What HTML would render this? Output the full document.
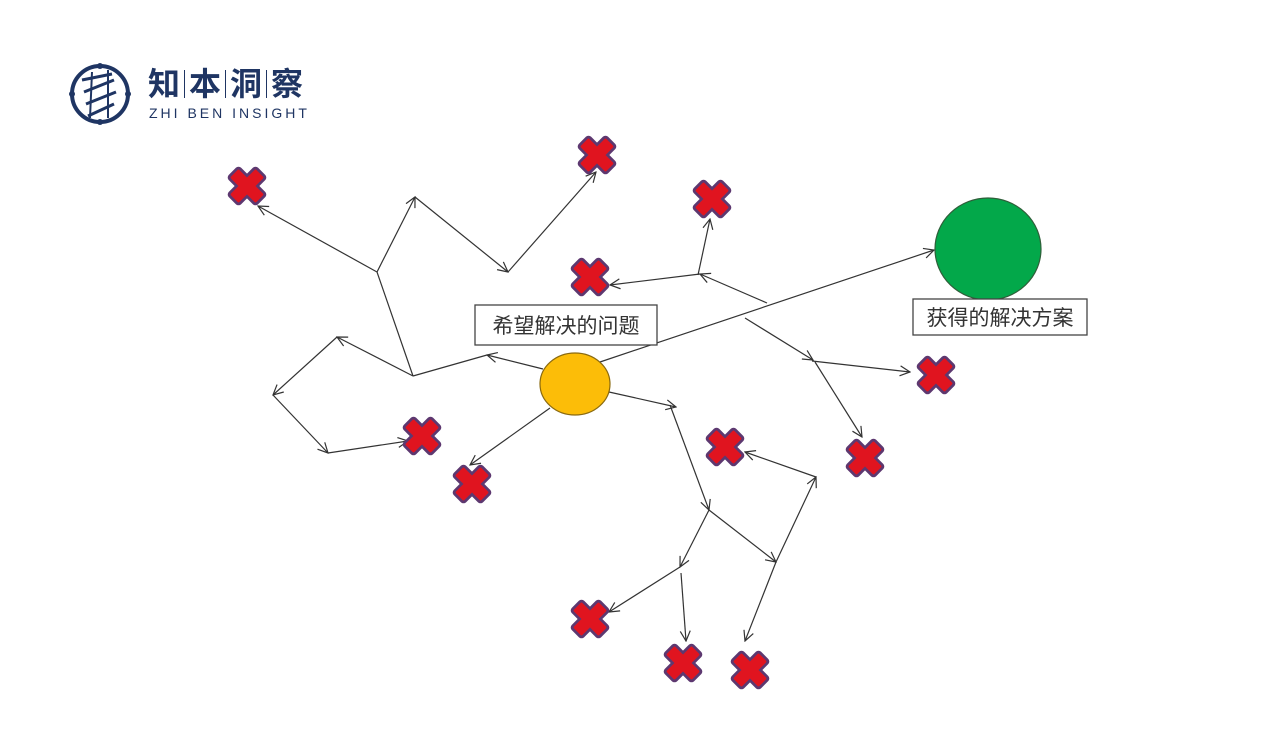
<!DOCTYPE html>
<html><head><meta charset="utf-8"><style>
html,body{margin:0;padding:0;background:#fff;width:1267px;height:752px;overflow:hidden}
</style></head><body>
<svg width="1267" height="752" viewBox="0 0 1267 752" xmlns="http://www.w3.org/2000/svg">
<defs>
<marker id="a" viewBox="0 0 12 12" refX="11" refY="6" markerWidth="12" markerHeight="12" markerUnits="userSpaceOnUse" orient="auto">
<path d="M1,1 L11,6 L1,11" fill="none" stroke="#333" stroke-width="1.2"/>
</marker>
<g id="x">
<g stroke="#5d3870" stroke-width="3.5" fill="#5d3870">
<rect x="-19" y="-7" width="38" height="14" rx="2" transform="rotate(45)"/>
<rect x="-19" y="-7" width="38" height="14" rx="2" transform="rotate(-45)"/>
</g>
<g fill="#e0141f">
<rect x="-18" y="-6" width="36" height="12" rx="1.5" transform="rotate(45)"/>
<rect x="-18" y="-6" width="36" height="12" rx="1.5" transform="rotate(-45)"/>
</g>
</g>
</defs>
<rect x="0" y="0" width="1267" height="752" fill="#fff"/>
<!-- logo -->
<g stroke="#1f3563" fill="none">
<circle cx="100" cy="94" r="28" stroke-width="4"/>
<path d="M82,80 L112,74 M84,92 L114,80 M86,104 L116,92 M88,116 L114,104" stroke-width="3"/>
<path d="M92,72 L90,118 M108,70 L108,118" stroke-width="2"/>
</g>
<g fill="#1f3563"><circle cx="72" cy="94" r="3"/><circle cx="128" cy="94" r="3"/><circle cx="100" cy="66" r="3"/><circle cx="100" cy="122" r="3"/></g>
<text x="148" y="95" font-family="'Liberation Sans','Noto Sans CJK SC',sans-serif" font-size="32" font-weight="bold" fill="#1f3563" letter-spacing="9">知本洞察</text>
<g stroke="#1f3563" stroke-width="1"><line x1="184.5" y1="70" x2="184.5" y2="98"/><line x1="225.5" y1="70" x2="225.5" y2="98"/><line x1="266.5" y1="70" x2="266.5" y2="98"/></g>
<text x="149" y="118" font-family="'Liberation Sans',sans-serif" font-size="14" fill="#1f3563" letter-spacing="3">ZHI BEN INSIGHT</text>

<g stroke="#333" stroke-width="1.2" fill="none">
<line x1="600" y1="362" x2="934" y2="250" marker-end="url(#a)"/>
<line x1="543" y1="369" x2="487" y2="355" marker-end="url(#a)"/>
<line x1="487" y1="355" x2="413" y2="376"/>
<line x1="413" y1="376" x2="377" y2="272"/>
<line x1="377" y1="272" x2="415" y2="197" marker-end="url(#a)"/>
<line x1="415" y1="197" x2="508" y2="272" marker-end="url(#a)"/>
<line x1="508" y1="272" x2="596" y2="172" marker-end="url(#a)"/>
<line x1="377" y1="272" x2="258" y2="206" marker-end="url(#a)"/>
<line x1="413" y1="376" x2="337" y2="337" marker-end="url(#a)"/>
<line x1="337" y1="337" x2="273" y2="395" marker-end="url(#a)"/>
<line x1="273" y1="395" x2="328" y2="453" marker-end="url(#a)"/>
<line x1="328" y1="453" x2="408" y2="441" marker-end="url(#a)"/>
<line x1="550" y1="408" x2="470" y2="465" marker-end="url(#a)"/>
<line x1="609" y1="392" x2="676" y2="407" marker-end="url(#a)"/>
<line x1="670" y1="405" x2="709" y2="510" marker-end="url(#a)"/>
<line x1="709" y1="510" x2="680" y2="567" marker-end="url(#a)"/>
<line x1="680" y1="567" x2="609" y2="612" marker-end="url(#a)"/>
<line x1="681" y1="573" x2="686" y2="641" marker-end="url(#a)"/>
<line x1="709" y1="510" x2="776" y2="562" marker-end="url(#a)"/>
<line x1="776" y1="562" x2="745" y2="641" marker-end="url(#a)"/>
<line x1="776" y1="562" x2="816" y2="477" marker-end="url(#a)"/>
<line x1="816" y1="477" x2="745" y2="452" marker-end="url(#a)"/>
<line x1="767" y1="303" x2="700" y2="274" marker-end="url(#a)"/>
<line x1="700" y1="274" x2="610" y2="285" marker-end="url(#a)"/>
<line x1="698" y1="275" x2="710" y2="219" marker-end="url(#a)"/>
<line x1="745" y1="318" x2="813" y2="360" marker-end="url(#a)"/>
<line x1="812" y1="361" x2="910" y2="372" marker-end="url(#a)"/>
<line x1="815" y1="362" x2="862" y2="437" marker-end="url(#a)"/>
</g>

<ellipse cx="575" cy="384" rx="35" ry="31" fill="#fcbd08" stroke="#8a6a10" stroke-width="1.2"/>
<ellipse cx="988" cy="249" rx="53" ry="51" fill="#03a84a" stroke="#2f5f3a" stroke-width="1.2"/>

<rect x="475" y="305" width="182" height="40" fill="#fff" stroke="#444" stroke-width="1.3"/>
<text x="566" y="333" text-anchor="middle" font-family="'Liberation Sans','Noto Sans CJK SC',sans-serif" font-size="21" fill="#333">希望解决的问题</text>
<rect x="913" y="299" width="174" height="36" fill="#fff" stroke="#444" stroke-width="1.3"/>
<text x="1000" y="325" text-anchor="middle" font-family="'Liberation Sans','Noto Sans CJK SC',sans-serif" font-size="21" fill="#333">获得的解决方案</text>

<use href="#x" x="247" y="186"/>
<use href="#x" x="597" y="155"/>
<use href="#x" x="712" y="199"/>
<use href="#x" x="590" y="277"/>
<use href="#x" x="936" y="375"/>
<use href="#x" x="865" y="458"/>
<use href="#x" x="422" y="436"/>
<use href="#x" x="472" y="484"/>
<use href="#x" x="725" y="447"/>
<use href="#x" x="590" y="619"/>
<use href="#x" x="683" y="663"/>
<use href="#x" x="750" y="670"/>
</svg>
</body></html>
